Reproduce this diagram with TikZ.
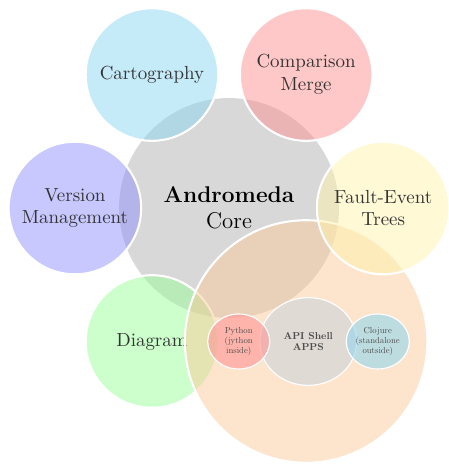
\documentclass[tikz,border=0pt]{standalone}
\usetikzlibrary{shapes.geometric}

\definecolor{coregray}{RGB}{216,216,216}
\definecolor{cartoblue}{RGB}{139,213,241}
\definecolor{mergered}{RGB}{255,145,145}
\definecolor{versionblue}{RGB}{145,145,255}
\definecolor{faultyellow}{RGB}{255,243,173}
\definecolor{diagramgreen}{RGB}{153,255,153}
\definecolor{apiorange}{RGB}{251,201,153}
\definecolor{pythonred}{RGB}{255,148,150}
\definecolor{clojureblue}{RGB}{148,215,238}
\definecolor{shellgray}{RGB}{205,212,220}

\font\moonfont=cmr10 at 4.6pt
\font\shellfont=cmbx10 at 5.3pt

\begin{document}
\begin{tikzpicture}[
    planet/.style={circle, draw=white, line width=1.1pt, minimum size=2.46cm,
      fill opacity=0.5, text opacity=1, text=black!80, align=center},
    moon/.style={ellipse, draw=white, line width=0.6pt, inner sep=0pt,
      fill opacity=0.6, text opacity=1, text=black!70, align=center,
      font={\moonfont\baselineskip=5.2pt}}
  ]
  \useasboundingbox (-4.25,-4.75) rectangle (4.08,3.86);

  % the core
  \node[circle, fill=coregray, minimum size=4.08cm, align=center, font=\large] (core) at (0,0)
    {\textbf{Andromeda}\\Core};

  % modules around the core
  \node[planet, fill=cartoblue] (carto) at (120:2.86) {Cartography};
  \node[planet, fill=mergered] (merge) at (60:2.86) {Comparison\\Merge};
  \node[planet, fill=versionblue] (version) at (180:2.86) {Version\\Management};
  \node[planet, fill=diagramgreen] (diagram) at (240:2.86) {Diagram};

  % api with its shells
  \node[planet, fill=apiorange, minimum size=4.5cm] (api) at (300:2.86) {};
  \node[moon, fill=shellgray, minimum width=1.8cm, minimum height=1.63cm,
    font={\shellfont\baselineskip=5.8pt}] (shell) at ([xshift=0.04cm]api) {API Shell\\APPS};
  \node[moon, fill=pythonred, minimum width=1.15cm, minimum height=1.02cm] (python)
    at ([xshift=-1.25cm]api) {Python\\(jython\\inside)};
  \node[moon, fill=clojureblue, minimum width=1.17cm, minimum height=1.02cm] (clojure)
    at ([xshift=1.33cm]api) {Clojure\\(standalone\\outside)};

  \node[planet, fill=faultyellow] (fault) at (0:2.86) {Fault-Event\\Trees};
\end{tikzpicture}
\end{document}
